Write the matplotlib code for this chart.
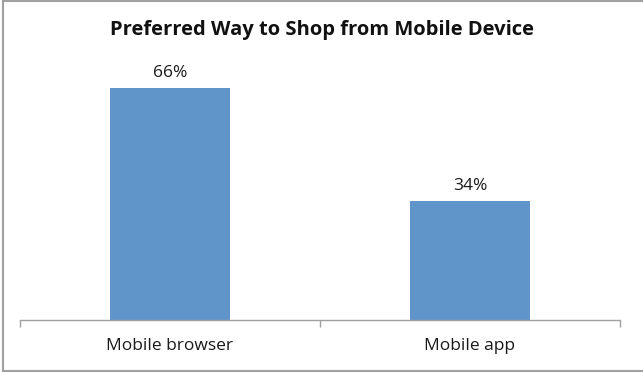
import matplotlib
matplotlib.use("Agg")
import matplotlib.pyplot as plt
from matplotlib.lines import Line2D

categories = ["Mobile browser", "Mobile app"]
values = [66, 34]
value_labels = ["66%", "34%"]
title = "Preferred Way to Shop from Mobile Device"

W, H = 643, 373
plt.rcParams['font.family'] = ['Open Sans', 'DejaVu Sans']
fig = plt.figure(figsize=(W / 100, H / 100), dpi=100)

# outer chart border (left, top and bottom edges)
border = dict(transform=fig.transFigure, color='#a0a0a0', linewidth=1.5)
xl, yt, yb = 2.5 / W, (H - 0.8) / H, (H - 371) / H
fig.lines.append(Line2D([xl, xl], [yb, yt], **border))
fig.lines.append(Line2D([xl, 1.0], [yt, yt], **border))
fig.lines.append(Line2D([xl, 1.0], [yb, yb], **border))

left, right = 20, 620
base_y, top_y = 320, 74
ax = fig.add_axes([left / W, (H - base_y) / H, (right - left) / W, (base_y - top_y) / H])
ax.set_xlim(-0.5, 1.5)
ax.set_ylim(0, 70)

x = list(range(len(categories)))
ax.bar(x, values, width=0.4, color='#6095C9', zorder=2)
for xi, v, lab in zip(x, values, value_labels):
    ax.annotate(lab, (xi, v), xytext=(0, 5), textcoords='offset points',
                ha='center', va='bottom', fontsize=12.5, color='#1a1a1a')

for s in ['top', 'right', 'left']:
    ax.spines[s].set_visible(False)
ax.spines['bottom'].set_color('#a0a0a0')
ax.spines['bottom'].set_linewidth(1.0)
ax.set_yticks([])
ax.set_xticks(x)
ax.set_xticklabels(categories, fontsize=12.5, color='#1a1a1a')
ax.tick_params(axis='x', which='major', length=0, pad=13)
ax.set_xticks([-0.5, 0.5, 1.5], minor=True)
ax.tick_params(axis='x', which='minor', length=5, color='#a0a0a0', width=1.0, direction='out')

fig.text(0.5, (H - 30) / H, title, ha='center', va='center',
         fontsize=14.5, fontweight='bold', color='#111111')

fig.savefig("out.png", dpi=100)
